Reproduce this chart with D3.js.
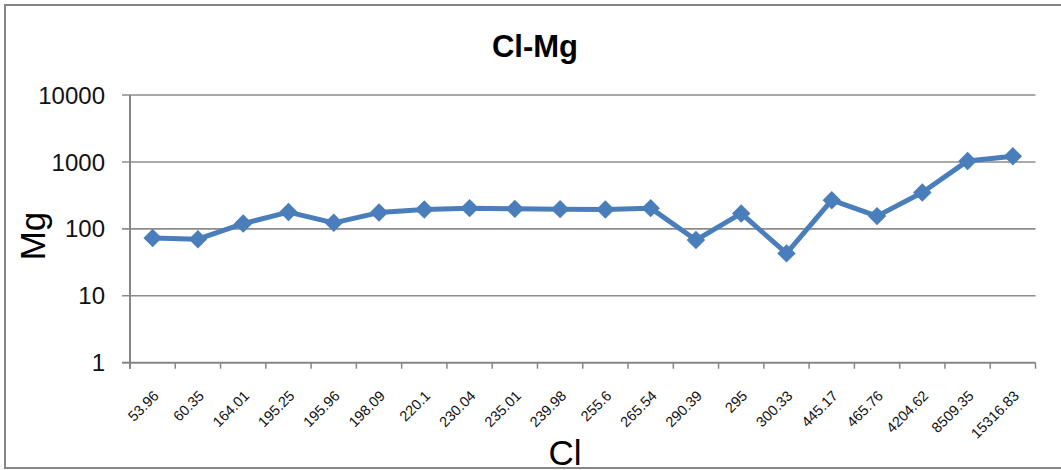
<!DOCTYPE html>
<html><head><meta charset="utf-8">
<script src="https://cdn.jsdelivr.net/npm/d3@7"></script>
<style>body{margin:0;background:#fff}svg{display:block}text{font-family:"Liberation Sans","Arial",sans-serif}</style>
</head><body>
<svg id="c" width="1061" height="470"></svg>
<script>
const categories = ["53.96","60.35","164.01","195.25","195.96","198.09","220.1","230.04","235.01","239.98","255.6","265.54","290.39","295","300.33","445.17","465.76","4204.62","8509.35","15316.83"];
const mgValues = [73,70,120,178,123,175,195,204,199,197,195,204,68,170,43,268,155,349,1035,1217];
const yTicks = [1,10,100,1000,10000];
const title = "Cl-Mg", xTitle = "Cl", yTitle = "Mg";

const svg = d3.select("#c");
const m = {l:130, r:1035.5, t:95, b:362.7};
svg.append("rect").attr("x",5).attr("y",5).attr("width",1070).attr("height",463)
  .attr("fill","#fff").attr("stroke","#868686").attr("stroke-width",2);

const x = d3.scaleBand().domain(categories).range([m.l, m.r]);
const y = d3.scaleLog().domain([1,10000]).range([m.b, m.t]);

// gridlines
svg.append("g").selectAll("line").data(yTicks.slice(1)).join("line")
  .attr("x1", m.l-8).attr("x2", m.r).attr("y1", d=>y(d)).attr("y2", d=>y(d))
  .attr("stroke","#8c8c8c").attr("stroke-width",1.6);
// y axis
svg.append("line").attr("x1",m.l).attr("x2",m.l).attr("y1",m.t).attr("y2",m.b+6)
  .attr("stroke","#868686").attr("stroke-width",2);
svg.append("line").attr("x1",m.l-8).attr("x2",m.l).attr("y1",y(1)).attr("y2",y(1))
  .attr("stroke","#868686").attr("stroke-width",2);
svg.append("g").selectAll("text").data(yTicks).join("text")
  .attr("x",105).attr("y",d=>y(d)).attr("dy","0.36em").attr("text-anchor","end")
  .attr("font-size",24).attr("fill","#111").text(d=>d);
// x axis
svg.append("line").attr("x1",m.l).attr("x2",m.r).attr("y1",m.b).attr("y2",m.b)
  .attr("stroke","#868686").attr("stroke-width",2);
const tickPos = categories.map(c=>x(c)).concat([x.range()[1]]);
svg.append("g").selectAll("line").data(tickPos).join("line")
  .attr("x1",d=>d).attr("x2",d=>d).attr("y1",m.b).attr("y2",m.b+6)
  .attr("stroke","#868686").attr("stroke-width",1.5);
svg.append("g").selectAll("text").data(categories).join("text")
  .attr("transform",d=>`translate(${x(d)+x.bandwidth()/2+7},${m.b+34}) rotate(-45)`)
  .attr("text-anchor","end").attr("font-size",14.5).attr("fill","#111").text(d=>d);

// line + markers
const line = d3.line().x((d,i)=>x(categories[i])+x.bandwidth()/2).y(d=>y(d));
svg.append("path").datum(mgValues).attr("d",line).attr("fill","none")
  .attr("stroke","#4a7ebb").attr("stroke-width",5).attr("stroke-linejoin","round");
svg.append("g").selectAll("path").data(mgValues).join("path")
  .attr("d",d3.symbol(d3.symbolSquare,170))
  .attr("transform",(d,i)=>`translate(${x(categories[i])+x.bandwidth()/2},${y(d)}) rotate(45)`)
  .attr("fill","#4a7ebb");

// titles
svg.append("text").attr("x",535).attr("y",57).attr("text-anchor","middle")
  .attr("font-size",31).attr("font-weight","bold").attr("fill","#000").text(title);
svg.append("text").attr("transform","translate(45,236) rotate(-90)").attr("text-anchor","middle")
  .attr("font-size",35).attr("fill","#000").text(yTitle);
svg.append("text").attr("x",565).attr("y",465).attr("text-anchor","middle")
  .attr("font-size",35).attr("fill","#000").text(xTitle);
</script>
</body></html>
